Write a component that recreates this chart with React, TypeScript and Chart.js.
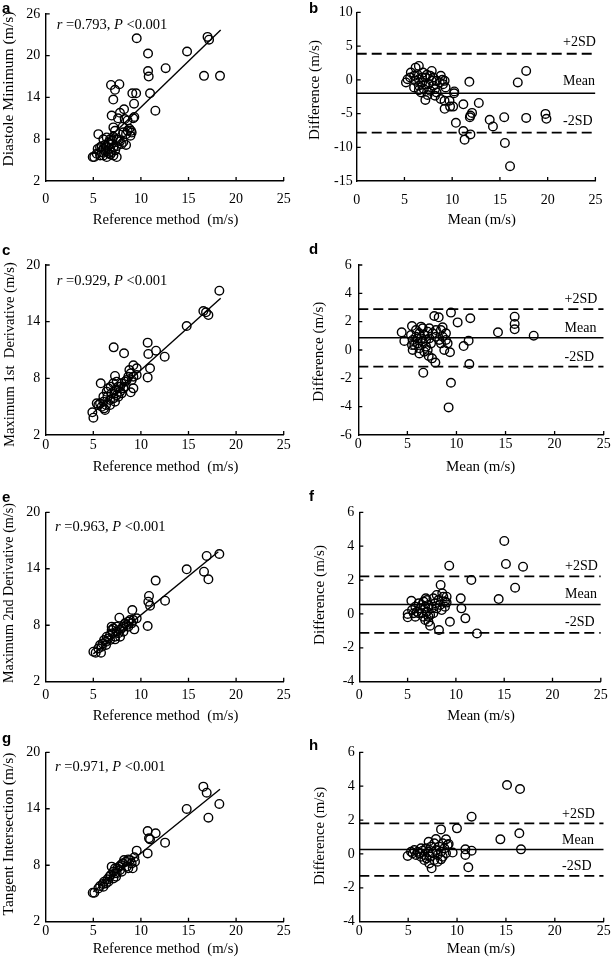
import React, { useEffect, useRef } from 'react';
import { Chart, registerables } from 'chart.js';
Chart.register(...registerables);

const SERIF = '"Liberation Serif", "Times New Roman", serif';
const SANS = '"Liberation Sans", Arial, sans-serif';

type Pt = [number, number];

const xTickValues = [0, 5, 10, 15, 20, 25];
const refTitle = 'Reference method  (m/s)';
const meanTitle = 'Mean (m/s)';
const diffTitle = 'Difference (m/s)';

// Panel a: Diastole minimum vs reference
const diastoleMin: Pt[] = [
  [17.0, 22.7], [17.16, 22.3], [9.56, 22.5], [14.85, 20.6], [10.75, 20.3], [12.6, 18.2], [10.75, 17.8],
  [10.82, 17.0], [16.63, 17.1], [18.31, 17.1], [6.86, 15.8], [7.74, 15.9], [7.28, 15.1], [7.1, 13.7],
  [9.1, 14.6], [9.5, 14.6], [10.96, 14.6], [9.28, 13.1], [11.52, 12.1], [8.23, 12.3], [7.8, 11.8],
  [6.93, 11.4], [9.31, 11.2], [9.2, 11.0], [7.6, 11.0], [8.3, 10.9], [8.6, 10.7], [7.11, 9.7], [7.28, 9.2],
  [8.09, 9.8], [8.61, 9.2], [8.79, 9.5], [8.96, 9.2], [9.03, 8.96], [8.9, 8.5], [8.44, 8.73], [8.16, 9.0],
  [5.53, 8.73], [6.06, 8.0], [6.41, 8.26], [6.76, 8.0], [7.11, 8.35], [7.46, 8.0], [7.8, 7.7], [8.16, 7.6],
  [8.44, 7.18], [7.98, 7.32], [6.93, 7.32], [6.58, 7.5], [6.24, 7.2], [5.88, 7.0], [5.71, 6.85], [6.06, 6.61],
  [6.41, 6.85], [6.76, 6.61], [7.11, 6.85], [7.46, 7.0], [7.3, 6.4], [6.93, 6.14], [6.58, 6.0], [6.24, 6.3],
  [5.88, 6.14], [5.46, 6.61], [5.36, 5.91], [5.71, 5.67], [6.06, 5.67], [6.41, 5.44], [7.11, 5.67],
  [7.46, 5.44], [4.94, 5.44], [5.1, 5.44], [6.8, 5.8], [7.6, 7.9], [7.0, 7.8],
];
const fitAX = [5.0, 18.38];
const fitAY = [6.0, 23.7];

// Panel b: Bland-Altman diastole minimum
const baDiastole: Pt[] = [
  [16.87, -0.39], [17.75, 1.32], [11.8, -0.29], [19.77, -5.05], [19.87, -5.78], [17.75, -5.64], [15.45, -5.54],
  [13.93, -5.93], [14.27, -6.91], [12.79, -3.43], [12.08, -4.9], [11.91, -5.3], [11.85, -5.55], [11.17, -3.63],
  [10.39, -6.37], [11.17, -7.6], [11.91, -8.09], [11.3, -8.87], [15.52, -9.36], [16.06, -12.8], [10.22, -1.72],
  [10.2, -2.0], [9.72, -3.1], [10.1, -3.97], [9.78, -3.97], [9.21, -4.3], [9.2, -3.1], [8.8, -2.84],
  [7.19, -2.99], [7.86, 1.32], [6.51, 2.06], [5.16, -0.39],
  [5.67, 1.08], [6.01, 0.59], [6.17, -0.15], [6.51, 0.1], [6.51, -0.88], [6.85, -0.39], [7.02, -1.37],
  [7.19, 0.34], [7.52, -0.64], [7.69, -1.62], [7.86, -0.15], [8.03, -0.88], [8.2, -1.37], [8.37, -1.86],
  [8.7, -0.39], [8.81, 0.59], [8.97, 0], [9.04, -0.64], [9.21, -0.15], [9.31, -1.13], [6.01, -1.13],
  [6.17, 1.81], [5.6, 0.34], [6.95, 1.08], [7.35, 0.74], [7.69, 0.59], [8.03, 0.34], [8.37, -0.15],
  [6.75, -1.86], [7.42, -2.25], [6.51, -1.52], [8.2, -2.35], [5.33, 0.1], [6.34, 0.84], [6.85, 0.34], [7.19, -0.64],
];
const limitsB = [3.87, -2.0, -7.84]; // +2SD, mean, -2SD

// Panel c: Maximum 1st derivative vs reference
const firstDeriv: Pt[] = [
  [18.24, 17.28], [16.56, 15.13], [16.84, 14.99], [17.09, 14.7], [14.81, 13.54], [10.71, 11.78], [11.59, 10.93],
  [10.78, 10.58], [12.5, 10.29], [7.14, 11.28], [8.23, 10.65], [9.21, 9.38], [9.56, 9.06], [8.79, 8.88],
  [10.96, 9.06], [10.71, 8.1], [9.56, 8.35], [5.78, 7.47], [7.28, 8.25], [9.21, 6.94], [8.93, 6.52],
  [4.9, 4.4], [5.01, 3.83], [5.36, 5.35], [6.23, 4.65],
  [5.71, 5.35], [5.88, 5.0], [6.06, 5.53], [6.34, 5.18], [6.48, 6.06], [6.76, 5.7], [6.93, 6.41], [7.11, 5.88],
  [7.28, 6.76], [7.46, 6.23], [7.63, 7.12], [7.81, 6.59], [7.98, 7.47], [8.16, 6.94], [8.33, 7.65], [8.51, 7.82],
  [8.68, 8.18], [8.93, 8.53], [9.03, 7.82], [9.21, 8.18], [6.41, 6.59], [6.06, 6.06], [6.58, 6.94], [7.11, 7.47],
  [7.46, 7.65], [7.81, 7.12], [6.76, 5.18], [7.28, 5.53], [7.63, 6.06], [7.98, 6.41], [5.53, 5.18], [6.13, 4.82],
  [6.83, 7.12], [8.33, 7.12],
];
const fitCX = [5.0, 18.38];
const fitCY = [4.35, 16.47];

// Panel d: Bland-Altman 1st derivative
const baFirst: Pt[] = [
  [4.42, 1.25], [4.69, 0.64], [7.74, 2.4], [8.19, 2.31], [9.44, 2.64], [10.12, 1.95], [11.41, 2.24],
  [15.93, 2.35], [15.93, 1.84], [15.93, 1.46], [14.23, 1.25], [17.87, 1.01], [11.24, 0.66], [10.73, 0.28],
  [9.34, -0.16], [11.31, -0.99], [9.44, -2.31], [9.2, -4.05], [6.62, -1.6], [7.85, -0.89], [7.51, -0.59],
  [7.17, -0.42], [8.76, 0.0], [9.1, 0.47], [5.47, 1.69],
  [5.37, 1.06], [5.54, 0.71], [5.47, 0.35], [5.54, 0], [5.88, 1.41], [5.88, 0.94], [6.05, 0.47], [6.22, 1.18],
  [6.22, 0.12], [6.39, 0.82], [6.56, 1.53], [6.56, 0.59], [6.73, 1.06], [6.73, -0.12], [6.9, 0.71],
  [7.07, 1.29], [7.24, 0.82], [7.24, 1.53], [7.41, 0.47], [7.57, 1.18], [7.91, 0.94], [7.91, 1.41],
  [8.25, 0.71], [8.42, 1.41], [8.59, 0.94], [8.59, 1.6], [8.93, 1.18], [8.93, 0.71], [6.9, 0.24], [7.07, 0.0],
  [6.39, 1.65], [5.71, 0.35], [6.05, 0.82], [8.42, 0.47], [6.22, -0.24],
];
const limitsD = [2.89, 0.87, -1.18];

// Panel e: Maximum 2nd derivative vs reference
const secondDeriv: Pt[] = [
  [18.24, 15.57], [16.91, 15.36], [16.63, 13.69], [17.09, 12.88], [14.81, 13.94], [11.55, 12.74], [10.85, 11.11],
  [10.78, 10.5], [10.96, 10.08], [12.54, 10.61], [10.71, 7.92], [9.1, 9.62], [7.74, 8.8], [9.31, 7.56],
  [9.56, 8.73], [5.01, 5.19], [5.25, 5.08], [5.81, 5.08],
  [5.53, 5.54], [5.71, 5.9], [5.99, 6.07], [6.13, 6.43], [6.34, 6.25], [6.41, 6.78], [6.58, 6.6], [6.76, 6.96],
  [6.93, 7.49], [7.04, 7.14], [7.11, 7.67], [7.28, 6.78], [7.46, 7.32], [7.63, 7.14], [7.81, 7.49], [7.98, 7.67],
  [8.16, 7.85], [8.33, 8.2], [8.51, 8.02], [8.68, 8.38], [8.86, 8.55], [9.03, 8.2], [9.21, 8.55], [6.76, 6.43],
  [7.28, 6.5], [7.81, 6.78], [5.88, 5.72], [6.34, 5.9], [6.93, 7.85], [7.46, 7.85], [8.16, 7.32], [8.68, 7.85],
];
const fitEX = [5.0, 18.13];
const fitEY = [4.96, 15.81];

// Panel f: Bland-Altman 2nd derivative
const baSecond: Pt[] = [
  [15.01, 4.31], [15.18, 2.95], [16.95, 2.79], [9.31, 2.85], [11.6, 2.0], [16.13, 1.55], [14.43, 0.88],
  [8.42, 1.71], [10.5, 0.92], [10.57, 0.33], [10.98, -0.26], [9.38, -0.46], [8.25, -0.95], [12.18, -1.15],
  [7.33, -0.69], [7.16, -0.46], [5.39, 0.78], [5.01, 0.0], [5.01, -0.2], [9.04, 0.67], [9.04, 1.02], [8.59, 1.22],
  [5.46, 0.23], [5.63, 0.04], [5.8, 0.43], [5.97, 0.13], [6.14, 0.63], [6.31, 0.33], [6.48, 0.04], [6.65, 0.73],
  [6.65, -0.16], [6.82, 0.43], [6.99, 0.82], [6.99, 0.13], [7.16, 0.53], [7.33, -0.06], [7.5, 0.33], [7.67, 0.92],
  [7.84, 0.63], [8.01, 0.33], [8.19, 0.82], [8.36, 0.53], [8.53, 0.23], [8.7, 1.02], [8.87, 0.73], [8.87, 0.43],
  [6.82, -0.36], [7.16, -0.16], [6.14, 0.04], [5.8, -0.16], [7.67, 0.04], [6.48, 0.53], [6.89, 0.92], [8.01, 1.12],
];
const limitsF = [2.22, 0.56, -1.12];

// Panel g: Tangent intersection vs reference
const tangent: Pt[] = [
  [16.56, 16.35], [16.91, 15.71], [18.24, 14.51], [17.09, 13.05], [14.81, 13.98], [10.71, 11.64], [11.55, 11.39],
  [10.85, 10.86], [10.96, 10.75], [12.54, 10.4], [10.71, 9.26], [9.56, 9.55], [4.94, 5.08], [5.11, 5.08],
  [5.53, 5.54], [5.71, 5.79], [5.99, 6.0], [6.13, 6.25], [6.34, 6.07], [6.48, 6.5], [6.69, 6.78], [6.83, 6.96],
  [6.93, 7.85], [7.11, 7.32], [7.28, 7.14], [7.39, 6.78], [7.53, 7.67], [7.74, 7.85], [7.88, 8.02], [8.09, 8.2],
  [8.23, 8.55], [8.44, 8.38], [8.68, 8.62], [8.86, 8.55], [9.03, 8.2], [9.14, 7.67], [9.31, 8.84], [9.38, 8.38],
  [7.81, 7.49], [7.46, 7.14], [7.11, 6.6], [6.58, 6.25], [7.98, 7.32], [8.51, 7.85], [6.06, 5.72], [7.28, 7.67],
  [8.68, 7.67],
];
const fitGX = [5.0, 18.31];
const fitGY = [5.18, 16.07];

// Panel h: Bland-Altman tangent intersection
const baTangent: Pt[] = [
  [15.11, 4.07], [16.44, 3.83], [11.49, 2.2], [9.99, 1.51], [8.36, 1.45], [14.43, 0.86], [16.37, 1.22],
  [16.54, 0.27], [9.55, 0.08], [10.85, 0.27], [10.85, -0.06], [11.49, 0.19], [11.15, -0.79], [7.4, -0.85],
  [4.95, -0.12], [9.14, 0.59], [8.87, 0.86], [7.84, 0.88], [7.09, 0.72],
  [5.29, 0.13], [5.46, 0.04], [5.63, 0.23], [5.8, -0.06], [5.97, 0.13], [6.14, 0.04], [6.31, -0.16], [6.48, 0.19],
  [6.65, -0.06], [6.82, 0.33], [6.89, -0.26], [7.09, 0.13], [7.23, -0.16], [7.33, 0.43], [7.5, 0.04],
  [7.67, -0.36], [7.84, 0.23], [8.01, -0.06], [8.19, 0.43], [8.36, 0.13], [8.53, 0.63], [8.53, -0.16],
  [8.7, 0.33], [8.87, 0.04], [9.04, 0.53], [7.16, -0.56], [6.65, -0.36], [8.01, -0.46], [8.36, -0.32],
  [6.31, 0.33], [7.67, 0.63],
];
const limitsH = [1.8, 0.26, -1.3];

const baLabels = ['+2SD', 'Mean', '-2SD'];

interface Panel {
  letter: string;
  letterPos: [number, number];
  box: [number, number, number, number];
  area: [number, number, number, number];
  yMin: number; yMax: number; yStep: number;
  points: Pt[];
  fitX?: number[]; fitY?: number[];
  corr?: [string, string];
  corrPos?: [number, number];
  limits?: number[];
  baX?: number; baOff?: number;
  yTitle: string; yTitlePos: [number, number]; yTitleLen: number;
  xTitle: string; xTitlePos: [number, number]; xTitleLen: number;
  xPad: number; yPad: number;
}

const panels: Panel[] = [
  {
    letter: 'a', letterPos: [2, 13], box: [0, 0, 306, 250], area: [45.7, 11, 283.7, 181],
    yMin: 2, yMax: 26, yStep: 6, points: diastoleMin, fitX: fitAX, fitY: fitAY,
    corr: ['0.793', '0.001'], corrPos: [56.7, 29.3],
    yTitle: 'Diastole Minimum (m/s)', yTitlePos: [12.5, 89], yTitleLen: 155,
    xTitle: refTitle, xTitlePos: [165.5, 224], xTitleLen: 145.7,
    xPad: 9.6, yPad: 5.5,
  },
  {
    letter: 'b', letterPos: [309, 13], box: [306, 0, 307, 250], area: [356.7, 11, 603.7, 181],
    yMin: -15, yMax: 10, yStep: 5, points: baDiastole, limits: limitsB, baX: 563, baOff: 8,
    yTitle: diffTitle, yTitlePos: [319, 90], yTitleLen: 100,
    xTitle: meanTitle, xTitlePos: [481.8, 224], xTitleLen: 68.3,
    xPad: 10.6, yPad: 4,
  },
  {
    letter: 'c', letterPos: [2, 255], box: [0, 232, 306, 256], area: [45.7, 265, 283.7, 435],
    yMin: 2, yMax: 20, yStep: 6, points: firstDeriv, fitX: fitCX, fitY: fitCY,
    corr: ['0.929', '0.001'], corrPos: [56.7, 285],
    yTitle: 'Maximum 1st  Derivative (m/s)', yTitlePos: [13.5, 354.5], yTitleLen: 185,
    xTitle: refTitle, xTitlePos: [165.5, 470.5], xTitleLen: 145.7,
    xPad: 1.6, yPad: 5.5,
  },
  {
    letter: 'd', letterPos: [309, 254], box: [306, 232, 307, 256], area: [358.3, 265, 603.7, 435],
    yMin: -6, yMax: 6, yStep: 2, points: baFirst, limits: limitsD, baX: 564.5, baOff: 6,
    yTitle: diffTitle, yTitlePos: [322.5, 351.7], yTitleLen: 100,
    xTitle: meanTitle, xTitlePos: [480.7, 470.7], xTitleLen: 69.3,
    xPad: 1.3, yPad: 6.5,
  },
  {
    letter: 'e', letterPos: [2, 501.5], box: [0, 472, 306, 256], area: [45.7, 512.3, 283.7, 681.7],
    yMin: 2, yMax: 20, yStep: 6, points: secondDeriv, fitX: fitEX, fitY: fitEY,
    corr: ['0.963', '0.001'], corrPos: [55, 530.7],
    yTitle: 'Maximum 2nd Derivative (m/s)', yTitlePos: [13, 593], yTitleLen: 180,
    xTitle: refTitle, xTitlePos: [165.5, 719.5], xTitleLen: 145.7,
    xPad: 5.2, yPad: 5.5,
  },
  {
    letter: 'f', letterPos: [309, 501], box: [306, 472, 307, 256], area: [359.3, 512.3, 603.7, 681.7],
    yMin: -4, yMax: 6, yStep: 2, points: baSecond, limits: limitsF, baX: 565, baOff: 6.7,
    yTitle: diffTitle, yTitlePos: [324, 595], yTitleLen: 100,
    xTitle: meanTitle, xTitlePos: [481, 720], xTitleLen: 67.7,
    xPad: 5.2, yPad: 5,
  },
  {
    letter: 'g', letterPos: [2, 743], box: [0, 712, 306, 253], area: [45.7, 752.3, 283.7, 921.7],
    yMin: 2, yMax: 20, yStep: 6, points: tangent, fitX: fitGX, fitY: fitGY,
    corr: ['0.971', '0.001'], corrPos: [55, 770.7],
    yTitle: 'Tangent Intersection (m/s)', yTitlePos: [12.5, 834], yTitleLen: 163,
    xTitle: refTitle, xTitlePos: [165.5, 953], xTitleLen: 145.7,
    xPad: 1.3, yPad: 5.5,
  },
  {
    letter: 'h', letterPos: [309, 750], box: [306, 712, 307, 253], area: [359.3, 752.3, 603.7, 921.7],
    yMin: -4, yMax: 6, yStep: 2, points: baTangent, limits: limitsH, baX: 562, baOff: 5.5,
    yTitle: diffTitle, yTitlePos: [324, 836], yTitleLen: 98.3,
    xTitle: meanTitle, xTitlePos: [481, 953.3], xTitleLen: 68.3,
    xPad: 1.6, yPad: 4.5,
  },
];

function fittedSize(ctx: CanvasRenderingContext2D, text: string, target: number): number {
  ctx.font = `15px ${SERIF}`;
  const w = ctx.measureText(text).width;
  const s = (15 * target) / w;
  return Math.max(12, Math.min(18, s));
}

function overlayPlugin(p: Panel) {
  return {
    id: 'overlay_' + p.letter,
    afterDraw(chart: any) {
      const ctx: CanvasRenderingContext2D = chart.ctx;
      const { left, bottom } = chart.chartArea;
      const xs = chart.scales.x;
      const ys = chart.scales.y;
      const ox = p.box[0];
      const oy = p.box[1];
      ctx.save();
      // inward tick marks
      ctx.strokeStyle = '#000';
      ctx.lineWidth = 1.3;
      ctx.beginPath();
      xs.ticks.forEach((t: any) => {
        if (t.value === xs.min) return;
        const px = xs.getPixelForValue(t.value);
        ctx.moveTo(px, bottom);
        ctx.lineTo(px, bottom - 4);
      });
      ys.ticks.forEach((t: any) => {
        if (t.value === ys.min) return;
        const py = ys.getPixelForValue(t.value);
        ctx.moveTo(left, py);
        ctx.lineTo(left + 4, py);
      });
      ctx.stroke();

      ctx.fillStyle = '#000';
      ctx.textBaseline = 'alphabetic';
      // panel letter
      ctx.font = `bold 15px ${SANS}`;
      ctx.textAlign = 'left';
      ctx.fillText(p.letter, p.letterPos[0] - ox, p.letterPos[1] - oy);

      // y title
      const ySize = fittedSize(ctx, p.yTitle, p.yTitleLen);
      ctx.font = `${ySize}px ${SERIF}`;
      ctx.save();
      ctx.translate(p.yTitlePos[0] - ox, p.yTitlePos[1] - oy);
      ctx.rotate(-Math.PI / 2);
      ctx.textAlign = 'center';
      ctx.fillText(p.yTitle, 0, 0);
      ctx.restore();

      // x title
      const xSize = fittedSize(ctx, p.xTitle, p.xTitleLen);
      ctx.font = `${xSize}px ${SERIF}`;
      ctx.textAlign = 'center';
      ctx.fillText(p.xTitle, p.xTitlePos[0] - ox, p.xTitlePos[1] - oy);

      // correlation text
      if (p.corr && p.corrPos) {
        const parts: [string, boolean][] = [
          ['r', true], [' =' + p.corr[0] + ', ', false], ['P', true], [' <' + p.corr[1], false],
        ];
        let x = p.corrPos[0] - ox;
        const y = p.corrPos[1] - oy;
        ctx.textAlign = 'left';
        parts.forEach(([t, it]) => {
          ctx.font = `${it ? 'italic ' : ''}14.5px ${SERIF}`;
          ctx.fillText(t, x, y);
          x += ctx.measureText(t).width;
        });
      }

      // Bland-Altman labels
      if (p.limits) {
        ctx.font = `14px ${SERIF}`;
        ctx.textAlign = 'left';
        p.limits.forEach((v, i) => {
          const py = ys.getPixelForValue(v);
          ctx.fillText(baLabels[i], (p.baX as number) - ox, py - (p.baOff as number));
        });
      }
      ctx.restore();
    },
  };
}

function buildConfig(p: Panel): any {
  const [bx, by, bw, bh] = p.box;
  const [al, at, ar, ab] = p.area;
  const datasets: any[] = [
    {
      data: p.points.map(([x, y]) => ({ x, y })),
      pointRadius: 4.3,
      pointBorderWidth: 1.4,
      pointBorderColor: '#000',
      pointBackgroundColor: 'rgba(0,0,0,0)',
      borderColor: '#000',
      backgroundColor: 'rgba(0,0,0,0)',
      showLine: false,
      pointHoverRadius: 4.3,
    },
  ];
  if (p.fitX && p.fitY) {
    datasets.push({
      data: p.fitX.map((x, i) => ({ x, y: (p.fitY as number[])[i] })),
      showLine: true,
      borderColor: '#000',
      borderWidth: 1.4,
      pointRadius: 0,
      fill: false,
    });
  }
  if (p.limits) {
    p.limits.forEach((v, i) => {
      datasets.push({
        data: [{ x: xTickValues[0], y: v }, { x: xTickValues[xTickValues.length - 1], y: v }],
        showLine: true,
        borderColor: '#000',
        borderWidth: i === 1 ? 1.5 : 1.8,
        borderDash: i === 1 ? [] : [10, 5],
        pointRadius: 0,
        fill: false,
      });
    });
  }
  const tickFont = { family: SERIF, size: 14 };
  return {
    type: 'scatter',
    data: { datasets },
    options: {
      responsive: false,
      animation: false,
      devicePixelRatio: 1,
      layout: { padding: { left: 0, top: at - by, right: bx + bw - ar, bottom: 0 } },
      plugins: { legend: { display: false }, tooltip: { enabled: false } },
      events: [],
      scales: {
        x: {
          type: 'linear',
          min: xTickValues[0],
          max: xTickValues[xTickValues.length - 1],
          ticks: { stepSize: 5, font: tickFont, color: '#000', padding: p.xPad, maxRotation: 0, autoSkip: false },
          grid: { display: false, drawTicks: false },
          border: { display: true, color: '#000', width: 1.4 },
          afterFit: (s: any) => { s.height = by + bh - ab; },
        },
        y: {
          type: 'linear',
          min: p.yMin,
          max: p.yMax,
          ticks: { stepSize: p.yStep, font: tickFont, color: '#000', padding: p.yPad },
          grid: { display: false, drawTicks: false },
          border: { display: true, color: '#000', width: 1.4 },
          afterFit: (s: any) => { s.width = al - bx; },
        },
      },
    },
    plugins: [overlayPlugin(p)],
  };
}

function PanelChart({ p }: { p: Panel }) {
  const ref = useRef<HTMLCanvasElement>(null);
  useEffect(() => {
    if (!ref.current) return;
    const chart = new Chart(ref.current, buildConfig(p));
    return () => chart.destroy();
  }, [p]);
  return (
    <canvas
      ref={ref}
      width={p.box[2]}
      height={p.box[3]}
      style={{ position: 'absolute', left: p.box[0], top: p.box[1], width: p.box[2], height: p.box[3] }}
    />
  );
}

export default function App() {
  return (
    <div style={{ position: 'absolute', left: 0, top: 0, width: 613, height: 965, background: '#fff' }}>
      {panels.map((p) => (
        <PanelChart key={p.letter} p={p} />
      ))}
    </div>
  );
}
